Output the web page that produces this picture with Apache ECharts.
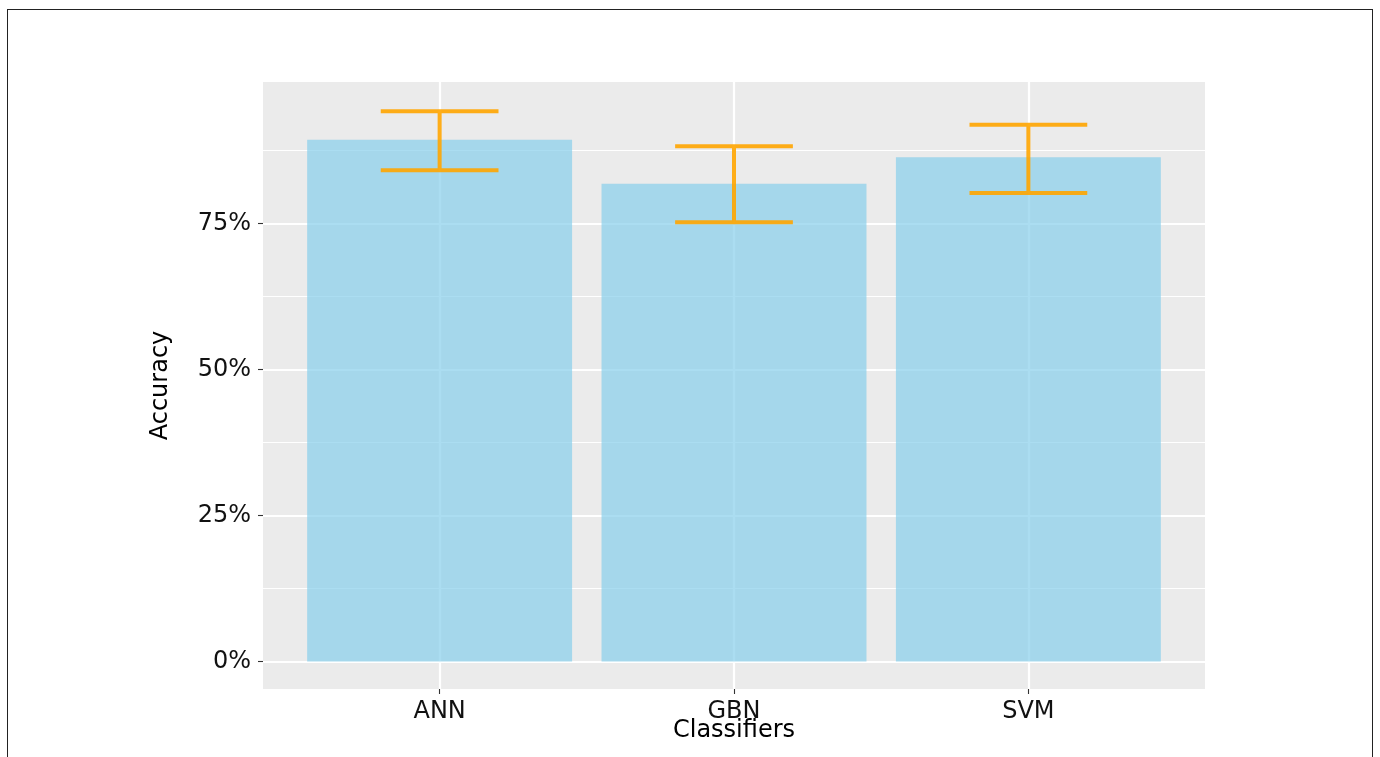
<!DOCTYPE html>
<html>
<head>
<meta charset="utf-8">
<script src="https://cdn.jsdelivr.net/npm/echarts@6/dist/echarts.min.js"></script>
<style>
html,body{margin:0;padding:0;background:#fff;overflow:hidden;}
#chart{position:absolute;left:0;top:0;width:1380px;height:757px;}
#frame{position:absolute;left:7px;top:9px;width:1366px;height:800px;border:1px solid #222;box-sizing:border-box;pointer-events:none;}
</style>
</head>
<body>
<div id="chart"></div>
<div id="frame"></div>
<script>
const categories = ['ANN', 'GBN', 'SVM'];
const accuracy = [89.3, 81.8, 86.3];
const errLow = [84.1, 75.2, 80.2];
const errHigh = [94.2, 88.2, 91.9];
const majorTicks = [0, 25, 50, 75];
const minorTicks = [12.5, 37.5, 62.5, 87.5];
const xPositions = [1, 2, 3];

const FONT = 'DejaVu Sans';
const chart = echarts.init(document.getElementById('chart'), null, {renderer: 'canvas'});

const barData = categories.map((c, i) => [xPositions[i], accuracy[i]]);
const errData = categories.map((c, i) => [xPositions[i], errLow[i], errHigh[i]]);

const gridLines = [];
majorTicks.forEach(v => gridLines.push({yAxis: v, lineStyle: {color: '#fff', width: 2.2, type: 'solid'}}));
minorTicks.forEach(v => gridLines.push({yAxis: v, lineStyle: {color: '#fff', width: 1.1, type: 'solid'}}));
xPositions.forEach(v => gridLines.push({xAxis: v, lineStyle: {color: '#fff', width: 2.2, type: 'solid'}}));

const option = {
  animation: false,
  grid: {left: 263, right: 175, top: 82, bottom: 68, show: true, backgroundColor: '#EBEBEB', borderWidth: 0},
  xAxis: {
    type: 'value', min: 0.4, max: 3.6,
    name: 'Classifiers', nameLocation: 'middle', nameGap: 30, nameMoveOverlap: false,
    nameTextStyle: {fontFamily: FONT, fontSize: 24, color: '#000'},
    axisLine: {show: false, onZero: false},
    axisTick: {show: true, customValues: xPositions, length: 5, lineStyle: {color: '#333', width: 1.1}},
    axisLabel: {customValues: xPositions, formatter: v => categories[Math.round(v) - 1] || '', fontFamily: FONT, fontSize: 24, color: '#111', margin: 11},
    splitLine: {show: false}
  },
  yAxis: {
    type: 'value', min: -4.7, max: 99.2,
    name: 'Accuracy', nameLocation: 'middle', nameGap: 90, nameMoveOverlap: false,
    nameTextStyle: {fontFamily: FONT, fontSize: 24, color: '#000'},
    axisLine: {show: false, onZero: false},
    axisTick: {show: true, customValues: majorTicks, length: 5, lineStyle: {color: '#333', width: 1.1}},
    axisLabel: {customValues: majorTicks, formatter: v => v + '%', fontFamily: FONT, fontSize: 24, color: '#111', margin: 12},
    splitLine: {show: false}
  },
  series: [
    {
      type: 'line', data: [], z: 1, silent: true,
      markLine: {silent: true, symbol: 'none', z: 1, label: {show: false}, animation: false, lineStyle: {type: 'solid'}, data: gridLines}
    },
    {
      type: 'custom', z: 3, data: barData, silent: true,
      renderItem: function (params, api) {
        const x = api.value(0), y = api.value(1);
        const p1 = api.coord([x - 0.45, y]);
        const p2 = api.coord([x + 0.45, 0]);
        return {type: 'rect', shape: {x: p1[0], y: p1[1], width: p2[0] - p1[0], height: p2[1] - p1[1]},
          style: {fill: 'rgba(135,206,235,0.7)'}};
      }
    },
    {
      type: 'custom', z: 4, data: errData, silent: true,
      renderItem: function (params, api) {
        const x = api.value(0), lo = api.value(1), hi = api.value(2);
        const a = api.coord([x - 0.2, hi]), b = api.coord([x + 0.2, hi]);
        const c = api.coord([x, hi]), d = api.coord([x, lo]);
        const e = api.coord([x - 0.2, lo]), f = api.coord([x + 0.2, lo]);
        const pd = `M${a[0]} ${a[1]}L${b[0]} ${b[1]}M${c[0]} ${c[1]}L${d[0]} ${d[1]}M${e[0]} ${e[1]}L${f[0]} ${f[1]}`;
        return {type: 'path', shape: {pathData: pd}, style: {stroke: 'rgba(255,165,0,0.9)', lineWidth: 4, fill: null}};
      }
    }
  ]
};
chart.setOption(option);
</script>
</body>
</html>
